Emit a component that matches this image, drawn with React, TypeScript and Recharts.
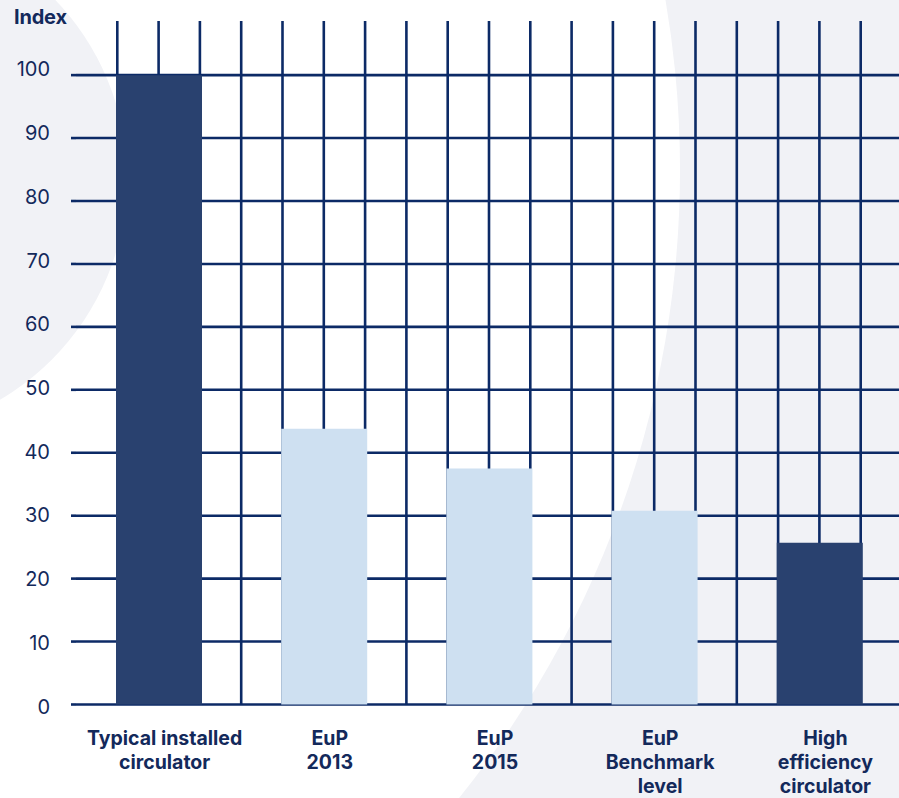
import { Bar, BarChart, CartesianGrid, Cell, Label, XAxis, YAxis } from "recharts";

// circulator energy index, typical installed unit = 100
const categories = [
  "Typical installed\ncirculator",
  "EuP\n2013",
  "EuP\n2015",
  "EuP\nBenchmark\nlevel",
  "High\nefficiency\ncirculator",
];
const indexValues = [100, 43.8, 37.5, 30.8, 25.7];
const yTicks = [0, 10, 20, 30, 40, 50, 60, 70, 80, 90, 100];

const NAVY = "#0c2a66";
const TEXT = "#13295b";
const DARK_BAR = "#29416f";
const LIGHT_BAR = "#cee0f1";
const BG_GREY = "#f1f2f6";
const FONT = "Inter, 'Noto Sans', sans-serif";

const data = categories.map((name, i) => ({ name, index: indexValues[i] }));

// category names can wrap over several lines
const CategoryTick = ({ x, y, payload }: any) => {
  const lines = String(payload.value).split("\n");
  const cx = x + 6;
  return (
    <text
      x={cx}
      y={y + 40.5}
      textAnchor="middle"
      fill={TEXT}
      fontFamily={FONT}
      fontSize={19.5}
      fontWeight={700}
    >
      {lines.map((line, i) => (
        <tspan key={i} x={cx} dy={i === 0 ? 0 : 24}>
          {line}
        </tspan>
      ))}
    </text>
  );
};

// tick labels sit a touch higher towards the top of the scale
const ValueTick = ({ x, y, payload }: any) => (
  <text
    x={x}
    y={y + 2 - payload.value * 0.08}
    dy="0.36em"
    textAnchor="end"
    fill={TEXT}
    fontFamily={FONT}
    fontSize={20}
  >
    {payload.value}
  </text>
);

const IndexTitle = ({ viewBox }: any) => (
  <text
    x={viewBox.x + 14}
    y={viewBox.y + 3}
    fill={TEXT}
    fontFamily={FONT}
    fontSize={20}
    fontWeight={700}
    letterSpacing={-0.2}
  >
    Index
  </text>
);

// 20 equal columns across the plot, bars sit on every fourth line
const columnLines = ({ offset }: any) =>
  Array.from({ length: 19 }, (_, i) => offset.left + ((i + 1) * offset.width) / 20);

export default function App() {
  return (
    <div
      style={{
        position: "absolute",
        top: 0,
        left: 0,
        width: 899,
        height: 798,
        overflow: "hidden",
        background: BG_GREY,
      }}
    >
      <svg width={899} height={798} style={{ position: "absolute", top: 0, left: 0 }}>
        <circle cx={-323} cy={170} r={1003} fill="#ffffff" />
        <circle cx={-130} cy={178} r={257} fill={BG_GREY} />
      </svg>
      <div style={{ position: "absolute", top: 0, left: 0 }}>
        <BarChart
          width={904}
          height={798}
          data={data}
          margin={{ top: 21, right: 2, bottom: 0, left: 0 }}
        >
          <CartesianGrid
            stroke={NAVY}
            strokeWidth={2.6}
            syncWithTicks
            verticalCoordinatesGenerator={columnLines}
          />
          <XAxis
            dataKey="name"
            height={93.5}
            interval={0}
            tickLine={false}
            axisLine={false}
            tickSize={0}
            tickMargin={0}
            tick={<CategoryTick />}
          />
          <YAxis
            width={76}
            domain={[0, 108.6]}
            ticks={yTicks}
            axisLine={false}
            tickLine={{ stroke: NAVY, strokeWidth: 2.6 }}
            tickSize={5}
            tickMargin={21}
            tick={<ValueTick />}
          >
            <Label content={<IndexTitle />} />
          </YAxis>
          <Bar dataKey="index" barSize={86} isAnimationActive={false}>
            {data.map((d, i) => (
              <Cell
                key={d.name}
                fill={i === 0 || i === data.length - 1 ? DARK_BAR : LIGHT_BAR}
              />
            ))}
          </Bar>
        </BarChart>
      </div>
    </div>
  );
}
